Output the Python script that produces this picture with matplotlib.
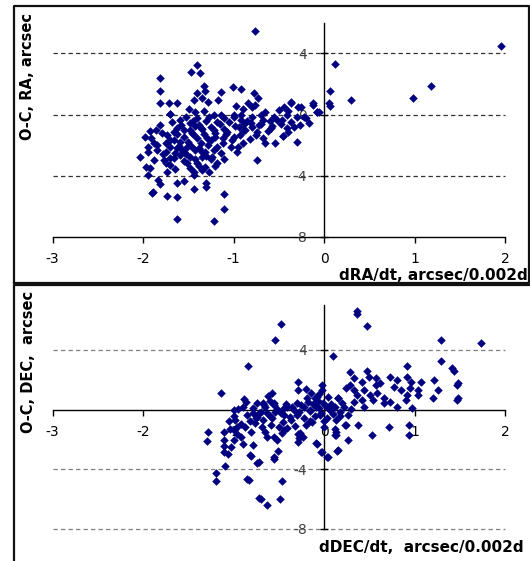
import matplotlib.pyplot as plt
import numpy as np

plt.rcParams['axes.unicode_minus'] = False
plt.rcParams['font.family'] = 'DejaVu Sans'

# top panel: (dRA/dt, O-C RA)
ra_pts = [
    (-0.76, 5.50), (1.96, 4.47), (0.12, 3.33), (1.18, 1.90), (0.98, 1.07),
    (0.30, 0.92), (0.07, 1.52), (0.06, 0.73), (0.07, 0.55), (-0.06, 0.15),
    (-1.40, 3.25), (-1.47, 2.81), (-1.37, 2.70), (-1.81, 2.37), (-1.81, 1.56),
    (-1.33, 1.87), (-1.31, 1.54), (-1.40, 1.43), (-1.14, 1.50), (-1.01, 1.82),
    (-0.92, 1.65), (-0.77, 1.43), (-0.73, 1.06), (-1.44, 0.95), (-1.35, 1.06),
    (-1.28, 0.84), (-1.17, 0.95), (-1.81, 0.77), (-1.71, 0.77), (-1.62, 0.77),
    (-1.70, 0.01), (-1.49, 0.34), (-1.43, 0.18), (-1.33, 0.25), (-1.22, -0.03),
    (-0.97, 0.56), (-0.89, 0.34), (-0.84, 0.77), (-0.80, 0.47), (-0.76, 0.62),
    (-1.00, -0.03), (-0.92, -0.03), (-0.44, 0.51), (-0.36, 0.84), (-0.12, 0.77),
    (-0.25, 0.47), (-0.08, 0.18), (-0.70, -0.03), (-0.55, -0.14), (-0.41, -0.03),
    (-0.36, 0.75), (-0.29, 0.46), (-0.20, -0.23), (-0.12, 0.64), (-0.40, 0.20),
    (-1.70, 0.03), (-2.03, -2.81), (-1.91, -1.56), (-1.81, -0.69), (-1.79, -1.23),
    (-1.94, -2.15), (-1.95, -2.44), (-1.97, -3.42), (-1.92, -3.53), (-1.95, -3.97),
    (-1.83, -4.30), (-1.81, -4.56), (-1.89, -5.06), (-1.90, -5.13), (-1.74, -5.34),
    (-1.62, -5.43), (-1.62, -6.87), (-1.21, -6.96), (-1.10, -5.21), (-1.10, -6.22),
    (-1.30, -4.73), (-1.30, -4.51), (-1.44, -4.91), (-1.62, -4.47), (-1.55, -4.36),
    (-1.44, -3.97), (-1.44, -3.75), (-1.35, -3.64), (-1.27, -3.75), (-1.31, -3.42),
    (-1.40, -3.20), (-1.51, -3.20), (-1.48, -3.53), (-1.73, -3.75), (-1.70, -3.31),
    (-1.77, -2.98), (-1.66, -2.87), (-1.59, -2.66), (-1.18, -3.20), (-1.11, -2.94),
    (-1.14, -2.55), (-1.22, -2.33), (-0.74, -2.98), (-0.96, -2.44), (-1.03, -2.11),
    (-0.89, -1.89), (-0.65, -1.89), (-0.54, -1.89), (-0.45, -1.41), (-0.30, -1.78),
    (-0.26, -0.69), (-0.17, -0.58), (-0.22, -0.14), (-0.08, 0.18), (-0.37, -0.47),
    (-0.52, -0.36), (-0.67, -0.36), (-0.59, -0.91), (-0.74, -1.13), (-0.81, -0.58),
    (-0.92, -0.36), (-1.00, -0.14), (-1.07, -1.13), (-1.12, -1.56), (-1.00, -1.46),
    (-1.22, -1.02), (-1.29, -1.56), (-1.36, -1.89), (-1.42, -2.33), (-1.51, -2.11),
    (-1.59, -1.78), (-1.66, -1.67), (-1.70, -2.11), (-1.75, -2.44), (-1.84, -2.33),
    (-1.66, -1.13), (-1.55, -1.02), (-1.46, -1.23), (-1.36, -0.91), (-1.48, -0.58),
    (-1.40, -0.25), (-1.27, -0.14), (-1.18, -0.47), (-1.14, -0.03), (-1.59, -0.36),
    (-1.62, -0.91), (-1.73, -1.34), (-1.86, -1.02), (-1.88, -1.89), (-1.31, -2.44),
    (-1.35, -2.77), (-1.24, -2.77), (-1.48, -2.77), (-1.55, -2.44), (-1.62, -2.22),
    (-0.87, -1.02), (-0.94, -0.80), (-0.72, -0.69), (-0.41, -0.91), (-0.46, -0.36),
    (-0.30, -0.14), (-1.45, -0.45), (-1.38, -0.70), (-1.30, -0.40), (-1.25, -0.85),
    (-1.20, -1.20), (-1.15, -0.65), (-1.10, -0.95), (-1.05, -0.50), (-0.98, -0.75),
    (-0.90, -1.10), (-0.85, -0.45), (-0.80, -0.85), (-0.75, -1.35), (-0.70, -0.60),
    (-0.62, -1.10), (-0.60, -0.40), (-0.48, -0.65), (-0.40, -1.15), (-0.33, -0.80),
    (-1.55, -1.45), (-1.50, -1.80), (-1.45, -1.30), (-1.40, -1.55), (-1.33, -1.25),
    (-1.28, -2.00), (-1.25, -1.70), (-1.20, -1.45), (-1.18, -2.15), (-1.12, -1.85),
    (-1.08, -1.30), (-1.02, -1.65), (-0.95, -2.10), (-0.93, -1.35), (-1.60, -2.05),
    (-1.65, -2.50), (-1.57, -2.30), (-1.52, -2.60), (-1.47, -2.05), (-1.38, -2.20),
    (-1.35, -2.45), (-1.30, -2.70), (-1.42, -2.90), (-1.25, -2.95), (-1.75, -1.90),
    (-1.78, -2.60), (-1.70, -2.85), (-1.85, -2.00), (-1.20, -3.40), (-1.38, -3.40),
    (-1.55, -3.05), (-1.65, -3.60), (-1.75, -3.15), (-1.88, -3.00), (-1.48, -1.00),
    (-1.58, -0.70), (-1.68, -0.50), (-1.53, -0.15), (-1.10, -0.20), (-0.80, -0.15),
    (-0.65, 0.15), (-0.50, 0.30), (-0.58, -0.75), (-0.45, -1.40), (-0.67, -1.55),
    (-0.82, -1.60), (-0.88, -0.65), (-1.35, -0.95), (-1.42, -0.75), (-1.62, -1.25),
    (-1.70, -1.70), (-1.92, -1.10), (-1.98, -1.45),
]

# bottom panel: (dDEC/dt, O-C DEC)
dec_pts = [
    (-0.47, 5.72), (-0.54, 4.66), (-0.84, 2.94), (0.10, 3.61), (0.36, 6.63),
    (0.36, 6.41), (0.48, 5.60), (1.29, 4.66), (1.74, 4.44), (1.29, 3.26),
    (1.41, 2.76), (1.44, 2.58), (0.92, 2.92),
    (-1.14, 1.09), (-0.88, 0.68), (-0.86, 0.52), (-0.62, 0.91), (-0.57, 1.09),
    (-0.67, 0.42), (-0.55, 0.42), (-0.29, 1.87), (-0.29, 1.31), (-0.20, 1.36),
    (-0.14, 1.09), (-0.02, 1.64), (-0.02, 1.31), (-0.08, 0.86), (-0.19, 0.75),
    (0.04, 0.86), (0.15, 0.75), (-0.41, 0.19), (-0.30, 0.42),
    (1.48, 1.76), (1.26, 1.31), (1.48, 0.79), (1.21, 1.98), (1.20, 0.79),
    (0.29, 2.54), (0.47, 2.60), (0.33, 2.09), (0.42, 1.87), (0.50, 2.16),
    (0.58, 2.09), (0.57, 1.64), (0.62, 1.76), (0.73, 2.20), (0.81, 1.98),
    (0.92, 2.20), (0.96, 1.87), (1.07, 1.87), (0.77, 1.53), (0.85, 1.31),
    (0.95, 1.42), (1.04, 1.31), (1.04, 0.97), (0.92, 0.97), (0.91, 0.64),
    (0.24, 1.42), (0.29, 1.64), (0.33, 1.31), (0.37, 0.97), (0.44, 1.31),
    (0.51, 0.97), (0.59, 1.09), (0.66, 0.75), (0.54, 0.64), (0.42, 0.64),
    (0.33, 0.52), (0.16, 0.75), (0.66, 0.42), (0.73, 0.52), (0.97, 0.08),
    (0.81, 0.19), (0.44, 0.19), (0.22, 0.19), (1.47, 1.66), (1.47, 0.64),
    (0.94, -1.05), (0.94, -1.73), (0.53, -1.73), (0.72, -1.17), (0.38, -1.05),
    (0.27, -2.07), (0.14, -2.75), (0.03, -3.21), (-0.03, -2.87), (-0.08, -2.30),
    (0.12, -1.73), (0.12, -1.28), (0.23, -1.05), (-0.29, -1.62), (-0.29, -2.19),
    (-0.23, -1.85), (-0.51, -2.75), (-0.55, -3.32), (-0.44, -1.40), (-0.63, -1.85),
    (-0.81, -3.09), (-0.74, -3.55), (-0.85, -4.68), (-0.46, -4.79), (-1.28, -1.51),
    (-1.29, -2.12), (-1.11, -2.07), (-1.11, -2.41), (-1.11, -2.87), (-1.09, -3.77),
    (-1.19, -4.23), (-1.19, -4.79), (-0.72, -5.93), (-0.63, -6.38), (-0.49, -5.97),
    (-0.96, -1.17), (-0.89, -2.30), (-1.00, -2.07), (-0.96, -1.62), (-1.04, -1.28),
    (-1.11, -1.49), (-1.06, -2.99), (-1.03, -2.50), (-0.83, -4.73), (-0.70, -5.96),
    (-0.82, -3.05), (-0.72, -3.50), (-0.55, -3.21), (-0.78, -2.38), (-0.92, -1.83),
    (-1.00, -1.38), (-0.98, -0.70), (-0.87, -1.15), (-0.81, -1.49), (-0.76, -0.93),
    (-0.74, -0.48), (-0.79, -0.26), (-0.67, -0.70), (-0.57, -0.59), (-0.59, -1.04),
    (-0.65, -1.49), (-0.55, -1.83), (-0.52, -2.05), (-0.46, -1.60), (-0.41, -1.26),
    (-0.50, -1.15), (-0.37, -0.70), (-0.44, -0.37), (-0.30, -0.37), (-0.33, -0.03),
    (-0.26, -1.60), (-0.28, -1.93), (-0.20, -1.04), (-0.13, -0.82), (-0.09, -2.27),
    (-0.04, -0.37), (0.00, -1.15), (-0.02, -2.83), (0.04, -3.17), (-0.09, 0.19),
    (-0.15, -0.03), (-0.22, 0.19), (0.07, -0.03), (0.13, -0.70), (0.13, -1.49),
    (0.13, -1.71), (0.15, -2.72), (0.24, -1.04), (0.26, -0.37), (-0.65, 0.19),
    (-0.55, 0.30), (-0.44, 0.08), (-0.89, 0.19), (-1.00, -0.03), (-0.70, -0.15),
    (-0.63, -0.26), (-0.54, -0.15), (-0.74, 0.42),
    (-0.95, 0.05), (-0.85, -0.35), (-0.78, 0.10), (-0.72, -0.20), (-0.66, 0.30),
    (-0.60, -0.45), (-0.52, 0.05), (-0.48, -0.25), (-0.42, 0.40), (-0.38, -0.50),
    (-0.35, 0.15), (-0.28, -0.15), (-0.25, 0.30), (-0.22, -0.60), (-0.18, 0.50),
    (-0.16, -0.10), (-0.12, 0.35), (-0.10, -0.45), (-0.07, 0.60), (-0.05, 0.10),
    (-0.03, -0.20), (-0.01, 0.45), (0.02, 0.25), (0.03, -0.55), (0.05, 0.05),
    (0.08, 0.40), (0.10, -0.30), (0.12, 0.15), (0.18, -0.15), (0.20, 0.45),
    (0.30, 0.05), (-0.10, 0.80), (-0.06, 1.05), (-0.60, 0.60), (-0.75, -0.55),
    (-0.82, -0.80), (-0.68, -1.20), (-0.45, -0.85), (-0.32, -1.10), (-0.15, -0.75),
    (0.00, -0.80), (0.18, -0.45), (-1.00, -0.40), (-1.05, -0.75), (-0.92, -0.95),
]

ra_rate, ra_oc = np.array(ra_pts).T
dec_rate, dec_oc = np.array(dec_pts).T

x_ticks = [-3, -2, -1, 0, 1, 2]
navy = '#000080'

W, H = 530, 561
fig = plt.figure(figsize=(W / 100, H / 100), dpi=100)


def px_box(x0, y0, x1, y1):
    # pixel box (from top-left) -> figure fraction rect
    return [x0 / W, 1 - y1 / H, (x1 - x0) / W, (y1 - y0) / H]


def setup(ax, ylim, yticks, grid_at, xaxis_at, gridcol):
    ax.set_xlim(-3, 2)
    ax.set_ylim(*ylim)
    ax.spines['top'].set_visible(False)
    ax.spines['right'].set_visible(False)
    ax.spines['left'].set_position(('data', 0))
    ax.spines['bottom'].set_position(('data', xaxis_at))
    for s in ('left', 'bottom'):
        ax.spines[s].set_linewidth(1.0)
        ax.spines[s].set_color('black')
        ax.spines[s].set_zorder(2.6)
    ax.set_xticks(x_ticks)
    ax.set_xticklabels([str(t) for t in x_ticks])
    ax.set_yticks(yticks)
    ax.set_yticklabels([str(t) for t in yticks])
    ax.tick_params(axis='x', direction='out', length=4, width=1, pad=7,
                   labelsize=10, colors='black')
    ax.tick_params(axis='y', direction='inout', length=6, width=1, pad=9,
                   labelsize=10, labelcolor='#444444', color='black')
    for g in grid_at:
        ax.axhline(g, linestyle=(0, (3.5, 2.5)), color=gridcol,
                   linewidth=0.9, clip_on=False, zorder=1)
    ax.set_facecolor('none')


ax1 = fig.add_axes(px_box(52.5, 23, 505, 236.5))
setup(ax1, (-8, 6), [-8, -4, 0, 4], [-4, 0, 4], -8, '#333333')
ax1.scatter(ra_rate, ra_oc, marker='D', s=19, color=navy, linewidths=0, zorder=3)

ax2 = fig.add_axes(px_box(52.5, 305, 505, 529))
setup(ax2, (-8, 7), [-8, -4, 4], [-8, -4, 4], 0, '#808080')
ax2.scatter(dec_rate, dec_oc, marker='D', s=19, color=navy, linewidths=0, zorder=3)

# axis titles (Excel-style placement)
fig.text(27.5 / W, 1 - 76 / H, 'O-C, RA, arcsec', rotation=90, ha='center',
         va='center', fontsize=10.5, fontweight='bold')
fig.text(528 / W, 1 - 275 / H, 'dRA/dt, arcsec/0.002d', ha='right',
         va='center', fontsize=11, fontweight='bold')
fig.text(28.5 / W, 1 - 362 / H, 'O-C, DEC,  arcsec', rotation=90, ha='center',
         va='center', fontsize=10.5, fontweight='bold')
fig.text(524 / W, 1 - 548 / H, 'dDEC/dt,  arcsec/0.002d', ha='right',
         va='center', fontsize=11, fontweight='bold')

# chart borders
bc = '#111111'
def fline(xs, ys, lw=1.6):
    fig.add_artist(plt.Line2D([x / W for x in xs], [1 - y / H for y in ys],
                              color=bc, linewidth=lw))

fline([13.5, 13.5, 528.5, 528.5, 13.5], [282.5, 5.5, 5.5, 282.5, 282.5])
fline([13.5, 13.5, 530], [561, 284.5, 284.5])

fig.savefig('out.png', dpi=100)
